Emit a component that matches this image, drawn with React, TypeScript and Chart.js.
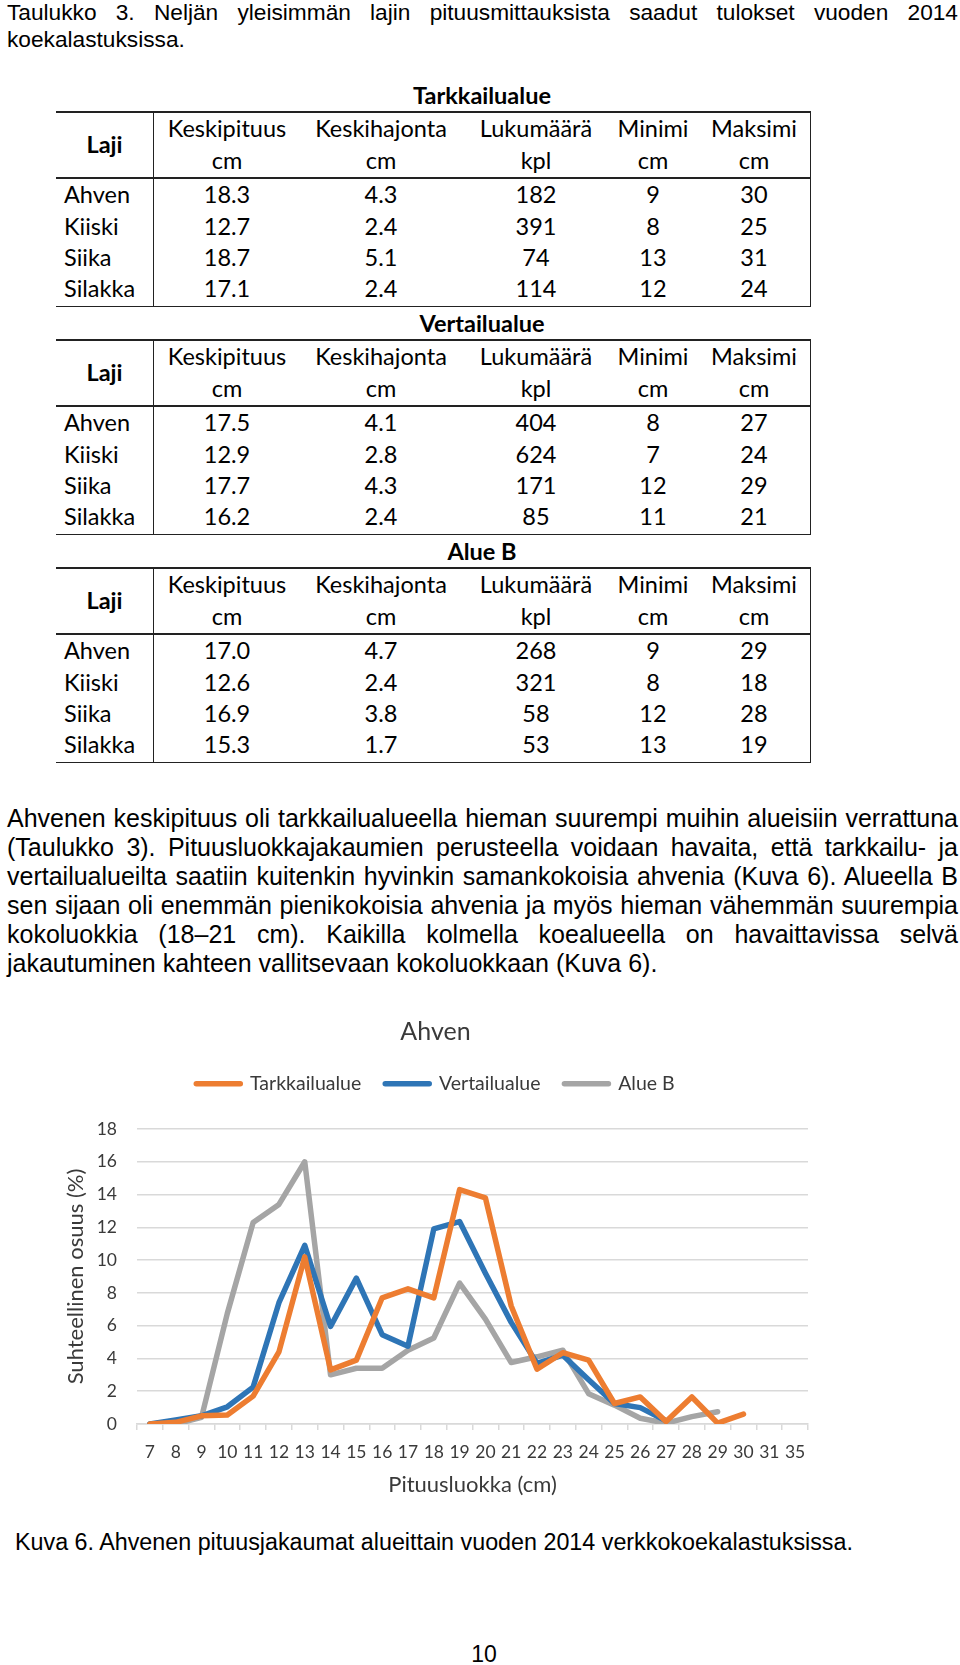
import React, { useEffect, useRef } from "react";
import { Chart, registerables } from "chart.js";

Chart.register(...registerables);

// ---------- Chart data ----------
const lengthClasses = ["7", "8", "9", "10", "11", "12", "13", "14", "15", "16", "17", "18", "19", "20", "21", "22", "23", "24", "25", "26", "27", "28", "29", "30", "31", "35"];
const tarkkailualue = [0, 0.1, 0.5, 0.55, 1.7, 4.4, 10.2, 3.3, 3.9, 7.7, 8.25, 7.7, 14.3, 13.8, 7.2, 3.35, 4.35, 3.9, 1.25, 1.65, 0.15, 1.65, 0.05, 0.6, null, null];
const vertailualue = [0, 0.25, 0.5, 1.05, 2.25, 7.4, 10.9, 5.95, 8.9, 5.45, 4.75, 11.9, 12.35, 9.2, 6.2, 3.7, 4.2, 2.7, 1.25, 1.0, 0.2, null, null, null, null, null];
const alueB = [0, 0, 0.4, 6.75, 12.3, 13.4, 16.0, 3.0, 3.4, 3.4, 4.5, 5.25, 8.6, 6.4, 3.75, 4.1, 4.5, 1.85, 1.15, 0.35, 0.05, 0.45, 0.75, null, null, null];
const seriesNames = ["Tarkkailualue", "Vertailualue", "Alue B"];
const seriesColors = ["#ED7D31", "#2E75B6", "#A5A5A5"];
const chartTitle = "Ahven";
const xTitle = "Pituusluokka (cm)";
const yTitle = "Suhteellinen osuus (%)";

// ---------- Table data ----------
const areaTitles = ["Tarkkailualue", "Vertailualue", "Alue B"];
const species = ["Ahven", "Kiiski", "Siika", "Silakka"];
const columnHeaders = ["Keskipituus", "Keskihajonta", "Lukumäärä", "Minimi", "Maksimi"];
const columnUnits = ["cm", "cm", "kpl", "cm", "cm"];
const tarkkailuRows = [
  ["18.3", "4.3", "182", "9", "30"],
  ["12.7", "2.4", "391", "8", "25"],
  ["18.7", "5.1", "74", "13", "31"],
  ["17.1", "2.4", "114", "12", "24"],
];
const vertailuRows = [
  ["17.5", "4.1", "404", "8", "27"],
  ["12.9", "2.8", "624", "7", "24"],
  ["17.7", "4.3", "171", "12", "29"],
  ["16.2", "2.4", "85", "11", "21"],
];
const alueBRows = [
  ["17.0", "4.7", "268", "9", "29"],
  ["12.6", "2.4", "321", "8", "18"],
  ["16.9", "3.8", "58", "12", "28"],
  ["15.3", "1.7", "53", "13", "19"],
];
const tableRows = [tarkkailuRows, vertailuRows, alueBRows];

// ---------- Text ----------
const headerLines = [
  "Taulukko 3. Neljän yleisimmän lajin pituusmittauksista saadut tulokset vuoden 2014",
  "koekalastuksissa.",
];
const paragraphLines = [
  "Ahvenen keskipituus oli tarkkailualueella hieman suurempi muihin alueisiin verrattuna",
  "(Taulukko 3). Pituusluokkajakaumien perusteella voidaan havaita, että tarkkailu- ja",
  "vertailualueilta saatiin kuitenkin hyvinkin samankokoisia ahvenia (Kuva 6). Alueella B",
  "sen sijaan oli enemmän pienikokoisia ahvenia ja myös hieman vähemmän suurempia",
  "kokoluokkia (18–21 cm). Kaikilla kolmella koealueella on havaittavissa selvä",
  "jakautuminen kahteen vallitsevaan kokoluokkaan (Kuva 6).",
];
const captionText = "Kuva 6. Ahvenen pituusjakaumat alueittain vuoden 2014 verkkokoekalastuksissa.";
const pageNumber = "10";

const ARIAL = '"Liberation Sans", Arial, sans-serif';
const CAL = 'Lato, "Open Sans", sans-serif';

type TP = {
  x: number;
  baseline: number;
  size: number;
  text: string;
  fam: "arial" | "lato";
  bold?: boolean;
  align?: "left" | "center" | "justify";
  width?: number;
};

function T({ x, baseline, size, text, fam, bold, align = "left", width }: TP) {
  const lh = Math.round(size * 1.3);
  const [asc, desc] = fam === "lato" ? [0.987, 0.213] : [0.905, 0.212];
  const top = baseline - lh / 2 - ((asc - desc) / 2) * size;
  const style: React.CSSProperties = {
    position: "absolute",
    top,
    fontSize: size,
    lineHeight: lh + "px",
    fontFamily: fam === "lato" ? CAL : ARIAL,
    fontWeight: bold ? 700 : 400,
    color: "#000",
    whiteSpace: "nowrap",
  };
  if (align === "center") {
    style.left = x - 250;
    style.width = 500;
    style.textAlign = "center";
  } else if (align === "justify") {
    style.left = x;
    style.width = width;
    style.textAlign = "justify";
    style.textAlignLast = "justify";
    style.whiteSpace = "normal";
  } else {
    style.left = x;
  }
  return <div style={style}>{text}</div>;
}

function HLine({ x1, x2, y }: { x1: number; x2: number; y: number }) {
  return <div style={{ position: "absolute", left: x1, top: y, width: x2 - x1, height: 1.5, background: "#222" }} />;
}
function VLine({ x, y1, y2 }: { x: number; y1: number; y2: number }) {
  return <div style={{ position: "absolute", left: x, top: y1, width: 1.5, height: y2 - y1, background: "#222" }} />;
}

const colCenters = [227, 381, 536, 653, 754];

function AreaTable({ index }: { index: number }) {
  const o = index * 228;
  const rows = tableRows[index];
  const fs = 23.5;
  const dataBaselines = [204, 235.5, 267, 298];
  return (
    <>
      <T x={482} baseline={105 + o} size={fs} text={areaTitles[index]} fam="lato" bold align="center" />
      <HLine x1={56} x2={811} y={111 + o} />
      <HLine x1={56} x2={811} y={177 + o} />
      <HLine x1={56} x2={811} y={305.5 + o} />
      <VLine x={152.5} y1={111 + o} y2={307 + o} />
      <VLine x={809.5} y1={111 + o} y2={307 + o} />
      <T x={104.5} baseline={154 + o} size={fs} text="Laji" fam="lato" bold align="center" />
      {columnHeaders.map((h, i) => (
        <T key={"h" + i} x={colCenters[i]} baseline={138 + o} size={fs} text={h} fam="lato" align="center" />
      ))}
      {columnUnits.map((u, i) => (
        <T key={"u" + i} x={colCenters[i]} baseline={170 + o} size={fs} text={u} fam="lato" align="center" />
      ))}
      {species.map((s, r) => (
        <React.Fragment key={"r" + r}>
          <T x={64} baseline={dataBaselines[r] + o} size={fs} text={s} fam="lato" />
          {rows[r].map((v, c) => (
            <T key={"c" + c} x={colCenters[c]} baseline={dataBaselines[r] + o} size={fs} text={v} fam="lato" align="center" />
          ))}
        </React.Fragment>
      ))}
    </>
  );
}

function AhvenChart() {
  const ref = useRef<HTMLCanvasElement>(null);
  useEffect(() => {
    const legendSpacer = {
      id: "legendSpacer",
      beforeInit(chart: any) {
        const lg = chart.legend;
        if (!lg) return;
        const orig = lg.fit;
        lg.fit = function () {
          orig.call(this);
          this.height += 25.5;
        };
      },
    };
    const series = [tarkkailualue, vertailualue, alueB];
    const textColor = "#3a3a3a";
    const defaultLabels = (Chart as any).defaults.plugins.legend.labels.generateLabels;
    const chart = new Chart(ref.current as HTMLCanvasElement, {
      type: "line",
      data: {
        labels: lengthClasses,
        datasets: series.map((d, i) => ({
          label: seriesNames[i],
          data: d,
          borderColor: seriesColors[i],
          backgroundColor: seriesColors[i],
          borderWidth: 5.5,
          borderCapStyle: "round",
          borderJoinStyle: "round",
          pointRadius: 0,
          tension: 0,
          fill: false,
        })),
      },
      options: {
        responsive: false,
        animation: false,
        devicePixelRatio: 1,
        layout: { padding: { left: 63, right: 152, top: 0, bottom: 12 } },
        plugins: {
          title: {
            display: true,
            text: chartTitle,
            color: textColor,
            font: { family: "Lato", size: 25, weight: "normal" },
            padding: { top: 22, bottom: 3 },
          },
          legend: {
            display: true,
            position: "top",
            labels: {
              usePointStyle: true,
              pointStyle: "line",
              pointStyleWidth: 44,
              padding: 24,
              color: textColor,
              font: { family: "Lato", size: 19.5 },
              generateLabels: (c: any) =>
                defaultLabels(c).map((it: any) => ({ ...it, lineCap: "round", pointStyle: "line" })),
            },
          },
          tooltip: { enabled: false },
        },
        scales: {
          x: {
            type: "category",
            offset: true,
            grid: {
              display: true,
              drawOnChartArea: false,
              drawTicks: true,
              tickLength: 6,
              offset: true,
              color: "#D9D9D9",
              lineWidth: 1.5,
            },
            border: { display: true, color: "#D9D9D9", width: 1.5 },
            ticks: {
              autoSkip: false,
              maxRotation: 0,
              minRotation: 0,
              padding: 12,
              color: textColor,
              font: { family: "Lato", size: 17.5 },
            },
            title: {
              display: true,
              text: xTitle,
              color: textColor,
              font: { family: "Lato", size: 22 },
              padding: 0,
            },
            afterFit: (s: any) => {
              s.height = 74;
            },
          },
          y: {
            min: 0,
            max: 18,
            ticks: {
              stepSize: 2,
              padding: 20,
              color: textColor,
              font: { family: "Lato", size: 17.5 },
            },
            grid: { color: "#D9D9D9", lineWidth: 1.5, drawTicks: false },
            border: { display: false },
            title: {
              display: true,
              text: yTitle,
              color: textColor,
              font: { family: "Lato", size: 22 },
              padding: 0,
            },
            afterFit: (s: any) => {
              s.width = 74;
            },
          },
        },
      } as any,
      plugins: [legendSpacer],
    });
    return () => chart.destroy();
  }, []);
  return (
    <canvas
      ref={ref}
      width={960}
      height={515}
      style={{ position: "absolute", left: 0, top: 995, width: 960, height: 515 }}
    />
  );
}

export default function App() {
  return (
    <div style={{ position: "absolute", left: 0, top: 0, width: 960, height: 1665, background: "#fff", overflow: "hidden" }}>
      <T x={7} baseline={19.5} size={22.7} text={headerLines[0]} fam="arial" align="justify" width={951} />
      <T x={7} baseline={47} size={22.7} text={headerLines[1]} fam="arial" />
      {[0, 1, 2].map((i) => (
        <AreaTable key={i} index={i} />
      ))}
      {paragraphLines.map((line, i) =>
        i < paragraphLines.length - 1 ? (
          <T key={i} x={7} baseline={827 + i * 29} size={25} text={line} fam="arial" align="justify" width={951} />
        ) : (
          <T key={i} x={7} baseline={827 + i * 29} size={25} text={line} fam="arial" />
        )
      )}
      <AhvenChart />
      <T x={15} baseline={1550} size={23.3} text={captionText} fam="arial" />
      <T x={484} baseline={1662} size={23} text={pageNumber} fam="arial" align="center" />
    </div>
  );
}
